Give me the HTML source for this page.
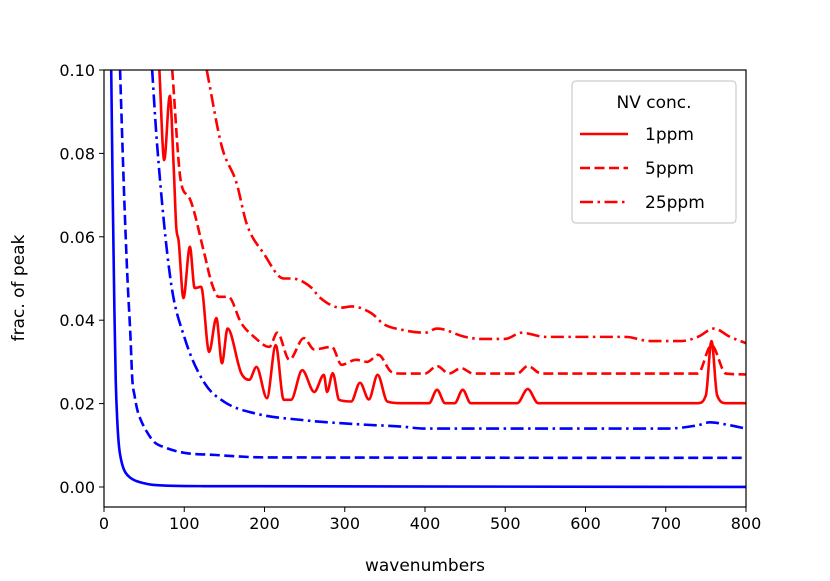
<!DOCTYPE html>
<html><head><meta charset="utf-8"><style>
body{margin:0;background:#fff}
svg{display:block;font-family:"DejaVu Sans","Liberation Sans",sans-serif}
</style></head><body>
<svg id="chart" width="830" height="581" viewBox="0 0 830 581">
<defs><clipPath id="plotclip"><rect x="104" y="70" width="642" height="437"/></clipPath></defs>
<g id="series" clip-path="url(#plotclip)"></g>
<rect x="104" y="70" width="642" height="437" fill="none" stroke="#000" stroke-width="1.2"/>
<g id="axes"></g>
<text x="425" y="571" text-anchor="middle" font-size="17">wavenumbers</text>
<text transform="translate(24,288) rotate(-90)" text-anchor="middle" font-size="17">frac. of peak</text>
<g>
<rect x="572" y="81" width="164" height="142" rx="4" fill="#fff" stroke="#ccc" stroke-width="1.2"/>
<text x="654" y="108" text-anchor="middle" font-size="17">NV conc.</text>
<line x1="580" y1="134" x2="628" y2="134" stroke="red" stroke-width="2.6"/>
<text x="645" y="140" font-size="17">1ppm</text>
<line x1="580" y1="168" x2="628" y2="168" stroke="red" stroke-width="2.6" stroke-dasharray="10,4.5"/>
<text x="645" y="174" font-size="17">5ppm</text>
<line x1="580" y1="202" x2="628" y2="202" stroke="red" stroke-width="2.6" stroke-dasharray="13,4.5,2.5,4.5"/>
<text x="645" y="208" font-size="17">25ppm</text>
</g>
</svg>
<script>
const xTicks=[0,100,200,300,400,500,600,700,800];
const yTicks=[0,0.02,0.04,0.06,0.08,0.10];
const yTickLabels=["0.00","0.02","0.04","0.06","0.08","0.10"];
const red1X=[69,75,82,87,90,93,99,107,113,121,131,140,147,154,171,181,190,203,214,224,233,247,262,274,278,285,293,308,319,330,341,353,370,405,415,425,437,447,457,515,528,541,740,750,757,764,775,800];
const red1Y=[0.1,0.0784,0.0938,0.076,0.0624,0.059,0.0453,0.0576,0.0477,0.048,0.0324,0.0405,0.0297,0.038,0.0273,0.0257,0.0288,0.0213,0.034,0.0209,0.0209,0.028,0.0228,0.0269,0.0228,0.0273,0.0209,0.0205,0.025,0.021,0.0269,0.0205,0.0201,0.0201,0.0233,0.0201,0.0201,0.0233,0.0201,0.0201,0.0235,0.0201,0.0201,0.022,0.035,0.022,0.0201,0.0201];
const red5X=[85,96,106,125,134,143,155,171,187,206,216,231,249,262,284,296,314,328,342,358,370,400,415,430,445,460,515,528,545,740,757,775,800];
const red5Y=[0.1,0.073,0.0695,0.056,0.049,0.0456,0.0456,0.0393,0.036,0.0336,0.037,0.0305,0.0357,0.033,0.0336,0.0293,0.0305,0.030,0.0317,0.0276,0.0272,0.0272,0.029,0.0272,0.0285,0.0272,0.0272,0.029,0.0272,0.0272,0.034,0.0272,0.027];
const red25X=[128,147,165,178,199,224,234,259,268,295,309,333,349,371,400,415,450,470,500,520,550,650,680,720,740,760,780,800];
const red25Y=[0.1,0.0815,0.073,0.063,0.056,0.050,0.050,0.0477,0.0456,0.043,0.0433,0.0417,0.039,0.0377,0.037,0.038,0.036,0.0355,0.0355,0.037,0.036,0.036,0.035,0.035,0.036,0.038,0.036,0.0345];
const blue1X=[9,11,13,14.6,16.5,18.7,21,25,30,37,50,62,125,800];
const blue1Y=[0.1,0.068,0.042,0.0257,0.016,0.0097,0.0068,0.0041,0.0027,0.0017,0.0009,0.0005,0.0002,0.0];
const blue5X=[20,25,29,33,35.3,38,41.5,46,52,62,77,100,137,200,800];
const blue5Y=[0.1,0.0705,0.051,0.036,0.0257,0.022,0.0185,0.016,0.0137,0.0109,0.0094,0.0082,0.0077,0.0071,0.007];
const blue25X=[60,66,83,100,125,150,187,250,320,370,400,700,740,755,780,800];
const blue25Y=[0.1,0.0825,0.0496,0.036,0.025,0.0204,0.0177,0.016,0.015,0.0145,0.014,0.014,0.0148,0.0155,0.0148,0.014];

const X0=104,X1=746,YT=70,YB=507,YMIN=-0.0048,YMAX=0.1;
function sx(v){return X0+(v/800)*(X1-X0);}
function sy(v){return YB-(v-YMIN)/(YMAX-YMIN)*(YB-YT);}
const NS='http://www.w3.org/2000/svg';
function monoPath(xs,ys){
  const px=xs.map(sx),py=ys.map(sy),n=px.length;
  const d=[],m=new Array(n);
  for(let i=0;i<n-1;i++)d.push((py[i+1]-py[i])/(px[i+1]-px[i]));
  m[0]=d[0];m[n-1]=d[n-2];
  for(let i=1;i<n-1;i++){m[i]=(d[i-1]*d[i]<=0)?0:(d[i-1]+d[i])/2;}
  for(let i=0;i<n-1;i++){
    if(d[i]===0){m[i]=0;m[i+1]=0;continue;}
    const a=m[i]/d[i],b=m[i+1]/d[i],s=a*a+b*b;
    if(s>9){const t=3/Math.sqrt(s);m[i]=t*a*d[i];m[i+1]=t*b*d[i];}
  }
  let p='M'+px[0].toFixed(2)+','+py[0].toFixed(2);
  for(let i=0;i<n-1;i++){
    const h=(px[i+1]-px[i])/3;
    p+=' C'+(px[i]+h).toFixed(2)+','+(py[i]+m[i]*h).toFixed(2)+' '+(px[i+1]-h).toFixed(2)+','+(py[i+1]-m[i+1]*h).toFixed(2)+' '+px[i+1].toFixed(2)+','+py[i+1].toFixed(2);
  }
  return p;
}
const g=document.getElementById('series');
function addSeries(xs,ys,color,dash,name){
  const el=document.createElementNS(NS,'path');
  el.setAttribute('d',monoPath(xs,ys));
  el.setAttribute('fill','none');
  el.setAttribute('stroke',color);
  el.setAttribute('stroke-width','2.6');
  el.setAttribute('stroke-linejoin','round');
  if(dash)el.setAttribute('stroke-dasharray',dash);
  
  
  g.appendChild(el);
}
addSeries(blue1X,blue1Y,'blue','', 'blue-solid-line');
addSeries(blue5X,blue5Y,'blue','10,4.5','blue-dashed-line');
addSeries(blue25X,blue25Y,'blue','13,4.5,2.5,4.5','blue-dashdot-line');
addSeries(red1X,red1Y,'red','','red-1ppm-line');
addSeries(red5X,red5Y,'red','10,4.5','red-5ppm-line');
addSeries(red25X,red25Y,'red','13,4.5,2.5,4.5','red-25ppm-line');

const ax=document.getElementById('axes');
xTicks.forEach(t=>{
  const l=document.createElementNS(NS,'line');
  l.setAttribute('x1',sx(t));l.setAttribute('x2',sx(t));
  l.setAttribute('y1',YB);l.setAttribute('y2',YB+5);
  l.setAttribute('stroke','#000');
  
  
  ax.appendChild(l);
  const tx=document.createElementNS(NS,'text');
  tx.setAttribute('x',sx(t));tx.setAttribute('y',YB+22);
  tx.setAttribute('text-anchor','middle');tx.setAttribute('font-size','16');
  tx.textContent=String(t);
  
  
  ax.appendChild(tx);
});
yTicks.forEach((t,i)=>{
  const l=document.createElementNS(NS,'line');
  l.setAttribute('x1',X0-5);l.setAttribute('x2',X0);
  l.setAttribute('y1',sy(t));l.setAttribute('y2',sy(t));
  l.setAttribute('stroke','#000');
  
  
  ax.appendChild(l);
  const tx=document.createElementNS(NS,'text');
  tx.setAttribute('x',X0-9);tx.setAttribute('y',sy(t)+6);
  tx.setAttribute('text-anchor','end');tx.setAttribute('font-size','16');
  tx.textContent=yTickLabels[i];
  
  
  ax.appendChild(tx);
});
</script>
</body></html>
